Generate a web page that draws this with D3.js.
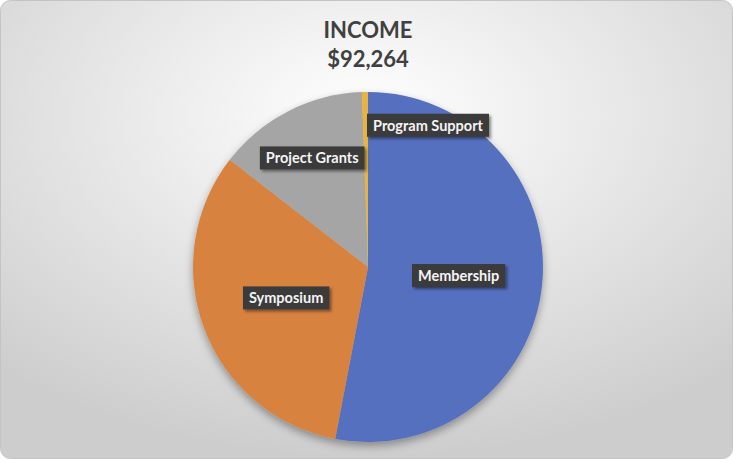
<!DOCTYPE html>
<html>
<head>
<meta charset="utf-8">
<script src="https://cdn.jsdelivr.net/npm/d3@7"></script>
<style>
  body { margin: 0; background: #fff; }
  svg { display: block; }
</style>
</head>
<body>
<div id="chart"></div>
<script>
const categories = ["Membership", "Symposium", "Project Grants", "Program Support"];
const values = [48900, 29985, 12866, 513];
const colors = ["#5670C0", "#D8823F", "#A5A5A5", "#E7B53C"];
const titleText = "INCOME";

const W = 733, H = 459;
const cx = 368, cy = 267, radius = 175;
// label radial position as fraction of radius (Excel best fit)
const labelR = [0.52, 0.5, 0.7, 0.81];

const total = d3.sum(values);

const svg = d3.select("#chart").append("svg")
    .attr("width", W)
    .attr("height", H);

const defs = svg.append("defs");
const bg = defs.append("radialGradient")
    .attr("id", "bg")
    .attr("cx", "50%").attr("cy", "25%").attr("r", "75%")
    .attr("gradientUnits", "objectBoundingBox");
bg.append("stop").attr("offset", "0%").attr("stop-color", "#ffffff");
bg.append("stop").attr("offset", "100%").attr("stop-color", "#cdcdcd");

const pieShadow = defs.append("filter").attr("id", "pieShadow")
    .attr("x", "-20%").attr("y", "-20%").attr("width", "140%").attr("height", "140%");
pieShadow.append("feDropShadow")
    .attr("dx", 0).attr("dy", 4).attr("stdDeviation", 4)
    .attr("flood-color", "#000").attr("flood-opacity", 0.35);

const boxShadow = defs.append("filter").attr("id", "boxShadow")
    .attr("x", "-20%").attr("y", "-40%").attr("width", "140%").attr("height", "180%");
boxShadow.append("feDropShadow")
    .attr("dx", 2).attr("dy", 2).attr("stdDeviation", 1.5)
    .attr("flood-color", "#000").attr("flood-opacity", 0.45);

// chart area
svg.append("rect")
    .attr("x", 0.5).attr("y", 0.5)
    .attr("width", W - 1).attr("height", H - 1)
    .attr("rx", 10).attr("ry", 10)
    .attr("fill", "url(#bg)")
    .attr("stroke", "#c4c4c4");

// title
const title = svg.append("text")
    .attr("text-anchor", "middle")
    .attr("fill", "#404040")
    .style("font-family", "Lato, 'Open Sans', sans-serif")
    .style("font-weight", "bold")
    .style("font-size", "22px");
title.append("tspan").attr("x", cx).attr("y", 38).text(titleText);
title.append("tspan").attr("x", cx).attr("y", 67).text(d3.format("$,")(total));

const pie = d3.pie().sort(null).value(d => d);
const arcs = pie(values);
const arc = d3.arc().innerRadius(0).outerRadius(radius);

const g = svg.append("g")
    .attr("transform", `translate(${cx},${cy})`);

g.append("g")
    .attr("filter", "url(#pieShadow)")
    .selectAll("path")
    .data(arcs)
    .join("path")
    .attr("d", arc)
    .attr("fill", (d, i) => colors[i]);

// data labels
const labels = g.selectAll("g.lab")
    .data(arcs)
    .join("g")
    .attr("class", "lab")
    .attr("transform", (d, i) => {
        const a = (d.startAngle + d.endAngle) / 2;
        const r = radius * labelR[i];
        return `translate(${Math.sin(a) * r},${-Math.cos(a) * r})`;
    });

labels.each(function(d, i) {
    const sel = d3.select(this);
    const t = sel.append("text")
        .attr("fill", "#f4f4f4")
        .style("font-family", "Lato, 'Open Sans', sans-serif")
        .style("font-weight", "bold")
        .style("font-size", "14.5px")
        .attr("dominant-baseline", "central")
        .text(categories[i]);
    const w = t.node().getComputedTextLength();
    const padX = 6, h = 23;
    // the small last slice gets its label pushed to the right of the sliver
    const x0 = i === 3 ? 1.5 : -w / 2 - padX;
    t.attr("x", x0 + padX).attr("y", 0);
    sel.insert("rect", "text")
        .attr("x", x0).attr("y", -h / 2)
        .attr("width", w + padX * 2).attr("height", h)
        .attr("fill", "#3a3a3a")
        .attr("filter", "url(#boxShadow)");
});
</script>
</body>
</html>
